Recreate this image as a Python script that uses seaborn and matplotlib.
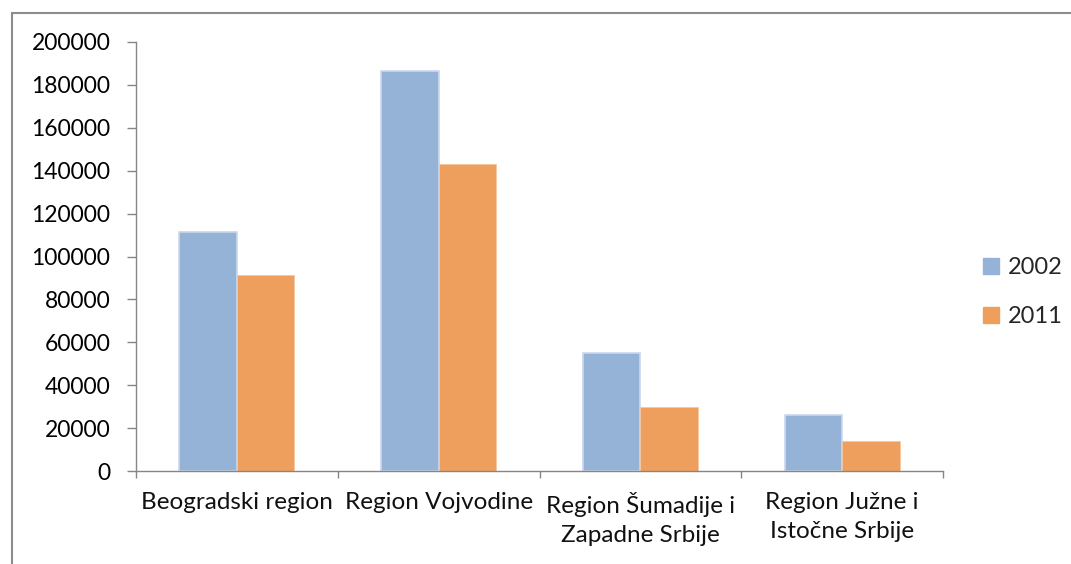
import matplotlib
matplotlib.use("Agg")
import matplotlib.pyplot as plt
import seaborn as sns
import pandas as pd
import numpy as np
from matplotlib.lines import Line2D

categories = ["Beogradski region", "Region Vojvodine", "Region Šumadije i\nZapadne Srbije", "Region Južne i\nIstočne Srbije"]
years = ["2002", "2011"]
values_2002 = [111500, 186500, 55000, 26200]
values_2011 = [91400, 143000, 29800, 14000]
yticks = [0, 20000, 40000, 60000, 80000, 100000, 120000, 140000, 160000, 180000, 200000]

df = pd.DataFrame({
    "region": categories * 2,
    "year": [years[0]] * 4 + [years[1]] * 4,
    "value": values_2002 + values_2011,
})

sns.set_theme(style="white")
plt.rcParams["font.family"] = ["Lato", "DejaVu Sans"]

fig = plt.figure(figsize=(10.71, 5.64), dpi=100)
ax = fig.add_axes([136 / 1071, 1 - 471 / 564, (943 - 136) / 1071, (471 - 42) / 564])

colors = {"2002": "#95B3D7", "2011": "#EE9F5E"}
sns.barplot(data=df, x="region", y="value", hue="year", palette=colors,
            width=0.57, gap=0, ax=ax, legend=False, saturation=1)
for p in ax.patches[:4]:
    p.set_edgecolor("#C9D8EC")
    p.set_linewidth(1.2)
for p in ax.patches[4:8]:
    p.set_edgecolor("#F5C8A2")
    p.set_linewidth(0.6)

ax.set_xlim(-0.5, 3.5)
ax.set_ylim(0, 200000)
ax.set_yticks(yticks)
ax.set_yticklabels([str(v) for v in yticks])
ax.set_xlabel("")
ax.set_ylabel("")

axis_color = "#868686"
for s in ["top", "right"]:
    ax.spines[s].set_visible(False)
for s in ["left", "bottom"]:
    ax.spines[s].set_color(axis_color)
    ax.spines[s].set_linewidth(1.0)

ax.tick_params(axis="y", which="major", length=6.5, width=1, color=axis_color,
               labelsize=16.5, labelcolor="#000000", pad=12, left=True)
ax.set_xticks(range(len(categories)))
ax.set_xticklabels(categories, linespacing=1.5)
ax.set_xticks(np.arange(-0.5, 4.0, 1.0), minor=True)
ax.tick_params(axis="x", which="major", length=0, labelsize=17.5, labelcolor="#111111", pad=15)
ax.tick_params(axis="x", which="minor", length=5, width=1, color=axis_color, bottom=True)

handles = [Line2D([0], [0], marker="s", linestyle="none", markersize=11,
                  markerfacecolor=colors[y], markeredgecolor=colors[y]) for y in years]
fig.legend(handles, years, loc="center left", bbox_to_anchor=(963 / 1071, 1 - 292 / 564),
           frameon=False, fontsize=17, handletextpad=0.2, labelspacing=1.2,
           handlelength=1.0, borderpad=0.2)

# outer frame of the chart area
fig.add_artist(Line2D([12 / 1071, 1.0], [1 - 13 / 564, 1 - 13 / 564], color="#8c8c8c", lw=1.5))
fig.add_artist(Line2D([12 / 1071, 12 / 1071], [0, 1 - 13 / 564], color="#8c8c8c", lw=1.5))

fig.savefig("out.png", dpi=100)
